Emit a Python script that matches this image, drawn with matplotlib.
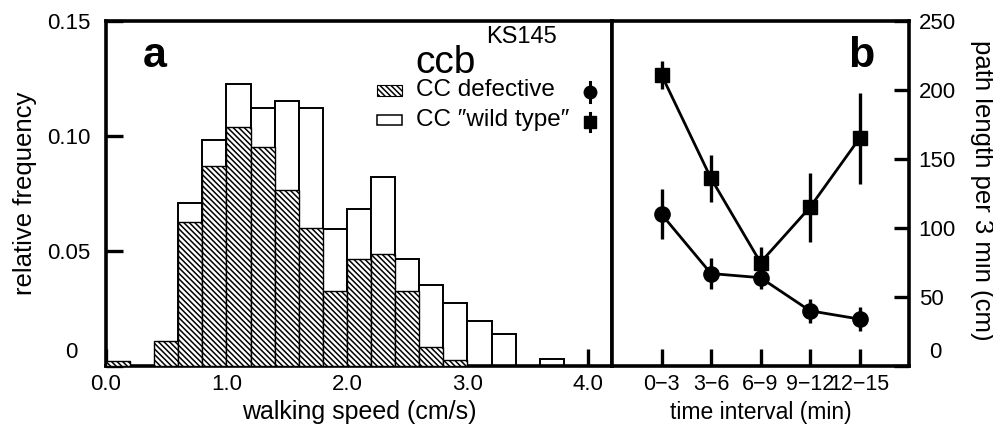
import matplotlib
matplotlib.use("Agg")
import matplotlib.pyplot as plt
from matplotlib.patches import Rectangle
import numpy as np

plt.rcParams['font.family'] = ['Liberation Sans', 'DejaVu Sans']
plt.rcParams['hatch.linewidth'] = 1.1

# ---- data: panel a (histogram of walking speed) ----
bin_left = [0.0, 0.2, 0.4, 0.6, 0.8, 1.0, 1.2, 1.4, 1.6, 1.8,
            2.0, 2.2, 2.4, 2.6, 2.8, 3.0, 3.2, 3.4, 3.6]
bin_width = 0.2
defective_freq = [0.0023, 0.0, 0.0109, 0.0626, 0.0871, 0.1038, 0.0954, 0.0765,
                  0.0598, 0.0328, 0.0466, 0.0489, 0.0328, 0.0083, 0.0025,
                  0.0, 0.0, 0.0, 0.0]
wildtype_freq = [0.0, 0.0, 0.0, 0.0709, 0.0982, 0.1228, 0.1122, 0.1152,
                 0.1122, 0.0597, 0.0681, 0.0822, 0.0465, 0.0354, 0.0276,
                 0.0196, 0.0139, 0.0, 0.0029]
xticks_a = [0.0, 1.0, 2.0, 3.0, 4.0]
xticklabels_a = ["0.0", "1.0", "2.0", "3.0", "4.0"]
yticks_a = [0.0, 0.05, 0.10, 0.15]
yticklabels_a = ["0", "0.05", "0.10", "0.15"]

# ---- data: panel b (path length per interval) ----
intervals = ["0\u22123", "3\u22126", "6\u22129", "9\u221212", "12\u221215"]
wild_path = [211, 136, 75, 115, 165]
wild_err = [10, 17, 11, 25, 33]
def_path = [110, 67, 64, 40, 34]
def_err = [18, 11, 8, 8.5, 8.5]
yticks_b = [0, 50, 100, 150, 200, 250]
yticklabels_b = ["0", "50", "100", "150", "200", "250"]

fig = plt.figure(figsize=(9.93, 4.24), dpi=100)
L, R = 106 / 993, 612 / 993
R2 = 909 / 993
B, T = (424 - 366) / 424, (424 - 21) / 424
ax = fig.add_axes([L, B, R - L, T - B])
bx = fig.add_axes([R, B, R2 - R, T - B])

FS = 16
SPW = 2.6
HATCH = '\\\\\\\\\\\\'

# ---- panel a ----
left = np.array(bin_left)
wt = np.array(wildtype_freq)
df = np.array(defective_freq)
mw = wt > 0
ax.bar(left[mw], wt[mw], width=bin_width, align='edge', facecolor='white',
       edgecolor='black', linewidth=1.4, zorder=2)
md = df > 0
ax.bar(left[md], df[md], width=bin_width, align='edge', facecolor='white',
       edgecolor='black', linewidth=1.0, hatch=HATCH, zorder=3)
ax.set_xlim(0, 4.2)
ax.set_ylim(0, 0.15)
ax.set_axisbelow(True)
ax.set_xticks(xticks_a)
ax.set_xticklabels(xticklabels_a)
ax.set_yticks(yticks_a)
ax.set_yticklabels([""] + yticklabels_a[1:])
ax.tick_params(direction='in', length=12, width=2.4, labelsize=FS, pad=6)
ax.tick_params(axis='y', pad=11)
ax.text(-0.069, 0.04, yticklabels_a[0], transform=ax.transAxes, fontsize=FS,
        ha='center', va='center')
ax.set_xlabel("walking speed (cm/s)", fontsize=18, labelpad=3)
ax.set_ylabel("relative frequency", fontsize=18.5)
ax.yaxis.set_label_coords(-0.136, 0.5)
for s in ax.spines.values():
    s.set_linewidth(SPW)

ax.text(0.073, 0.867, "a", transform=ax.transAxes, fontsize=31,
        fontweight='bold', ha='left', va='baseline')
ax.text(0.611, 0.849, "ccb", transform=ax.transAxes, fontsize=28,
        ha='left', va='baseline')
ax.text(0.752, 0.936, "KS145", transform=ax.transAxes, fontsize=17,
        ha='left', va='baseline')

# legend (manual)
ax.add_patch(Rectangle((0.536, 0.783), 0.049, 0.032, transform=ax.transAxes,
                       facecolor='white', edgecolor='black', linewidth=0.8,
                       hatch=HATCH, clip_on=False, zorder=5))
ax.add_patch(Rectangle((0.536, 0.699), 0.049, 0.029, transform=ax.transAxes,
                       facecolor='white', edgecolor='black', linewidth=1.1,
                       clip_on=False, zorder=5))
ax.text(0.613, 0.800, "CC defective", transform=ax.transAxes, fontsize=17.5,
        ha='left', va='center')
ax.text(0.613, 0.713, "CC \u2033wild type\u2033", transform=ax.transAxes,
        fontsize=17.5, ha='left', va='center')
ax.plot([0.957, 0.957], [0.765, 0.823], color='black', lw=2.2,
        transform=ax.transAxes, clip_on=False, zorder=6)
ax.plot([0.957], [0.794], marker='o', ms=9, color='black',
        transform=ax.transAxes, clip_on=False, zorder=6)
ax.plot([0.957, 0.957], [0.681, 0.733], color='black', lw=2.2,
        transform=ax.transAxes, clip_on=False, zorder=6)
ax.plot([0.957], [0.707], marker='s', ms=8, color='black',
        transform=ax.transAxes, clip_on=False, zorder=6)

# ---- panel b ----
xpos = np.arange(1, len(intervals) + 1)
bx.errorbar(xpos, wild_path, yerr=wild_err, fmt='-s', color='black', lw=2.0,
            elinewidth=2.4, ms=10, capsize=0, zorder=3)
bx.errorbar(xpos, def_path, yerr=def_err, fmt='-o', color='black', lw=2.0,
            elinewidth=2.4, ms=11, capsize=0, zorder=3)
bx.set_xlim(0, 6)
bx.set_ylim(0, 250)
bx.set_xticks(xpos)
bx.set_xticklabels(intervals)
bx.set_yticks(yticks_b)
bx.set_yticklabels([""] + yticklabels_b[1:])
bx.yaxis.tick_right()
bx.yaxis.set_label_position('right')
bx.tick_params(direction='in', length=12, width=2.4, labelsize=FS, pad=6)
bx.tick_params(axis='x', labelsize=15.5)
bx.tick_params(axis='y', length=11, pad=7)
bx.text(1.089, 0.04, yticklabels_b[0], transform=bx.transAxes, fontsize=FS,
        ha='center', va='center')
bx.set_xlabel("time interval (min)", fontsize=16.5, labelpad=4)
bx.set_ylabel("path length per 3 min (cm)", fontsize=18.5, rotation=-90,
              ha='center', va='center')
bx.yaxis.set_label_coords(1.246, 0.51)
for s in bx.spines.values():
    s.set_linewidth(SPW)
bx.text(0.882, 0.867, "b", transform=bx.transAxes, fontsize=31,
        fontweight='bold', ha='right', va='baseline')

fig.savefig("out.png", dpi=100)
